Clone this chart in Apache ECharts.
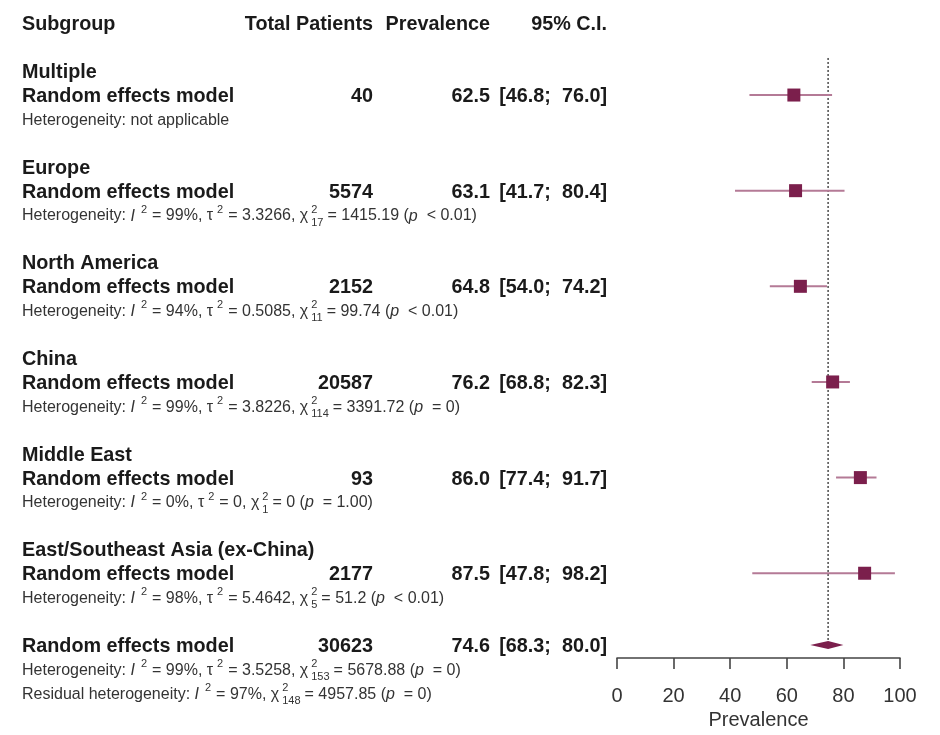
<!DOCTYPE html>
<html><head><meta charset="utf-8">
<script src="https://cdn.jsdelivr.net/npm/echarts@6/dist/echarts.min.js"></script>
<style>html,body{margin:0;padding:0;background:#fff}#c{width:940px;height:735px}</style>
</head><body><div id="c"></div>
<script>
// ---- data ----
const headers = ['Subgroup', 'Total Patients', 'Prevalence', '95% C.I.'];
const groups = ['Multiple', 'Europe', 'North America', 'China', 'Middle East', 'East/Southeast Asia (ex-China)'];
const modelLabel = 'Random effects model';
const totals = [40, 5574, 2152, 20587, 93, 2177];
const prevalence = [62.5, 63.1, 64.8, 76.2, 86.0, 87.5];
const lowerCI = [46.8, 41.7, 54.0, 68.8, 77.4, 47.8];
const upperCI = [76.0, 80.4, 74.2, 82.3, 91.7, 98.2];
const hetI2 = [null, 99, 94, 99, 0, 98];
const hetTau2 = [null, '3.3266', '0.5085', '3.8226', '0', '5.4642'];
const hetDf = [null, 17, 11, 114, 1, 5];
const hetQ = [null, '1415.19', '99.74', '3391.72', '0', '51.2'];
const hetP = [null, '< 0.01', '< 0.01', '= 0', '= 1.00', '< 0.01'];
const overallTotal = 30623;
const overallPrev = 74.6;
const overallLower = 68.3;
const overallUpper = 80.0;
const overallHet = { i2: 99, tau2: '3.5258', df: 153, q: '5678.88', p: '= 0' };
const residualHet = { i2: 97, df: 148, q: '4957.85', p: '= 0' };
const xTicks = [0, 20, 40, 60, 80, 100];
const xAxisName = 'Prevalence';

// ---- layout ----
const FONT = '"Liberation Sans", Arial, Helvetica, sans-serif';
const COL = { name: 22, total: 373, prev: 490, ci: 607 };
const ROW_MIN = -0.5, ROW_MAX = 26.545;
const GRID_TOP = 11.35, GRID_BOTTOM = 77;
const BOLD = 19.8, SMALL = 16;
const TEXT_DY = 1.5;
const INK = '#1a1a1a';
const SQUARE = '#7b1f4c', CILINE = '#b47a96';

function fmt1(v) { return v.toFixed(1); }
function ciText(lo, hi) { return '[' + fmt1(lo) + ';  ' + fmt1(hi) + ']'; }
function hetRich(i2, tau2, df, q, p) {
  return '{n|Heterogeneity: }{it|I}{supI|2}{n|= ' + i2 + '%, τ}{sup|2}{n|= ' + tau2 + ', }{chi|χ}{supz|2}{sub|' + df + '}{n|= ' + q + ' (}{it|p}{n|  ' + p + ')}';
}
function residRich(r) {
  return '{n|Residual heterogeneity: }{it|I}{supI|2}{n|= ' + r.i2 + '%, }{chi|χ}{supz|2}{sub|' + r.df + '}{n|= ' + r.q + ' (}{it|p}{n|  ' + r.p + ')}';
}
const base = { fontSize: SMALL, fontFamily: FONT, color: '#333', lineHeight: 24 };
const small = { fontSize: 11, fontFamily: FONT, color: '#333', lineHeight: 4 };
const rich = {
  n: Object.assign({}, base),
  it: Object.assign({}, base, { fontStyle: 'italic' }),
  chi: Object.assign({}, base, { padding: [0, 3, 0, 0] }),
  sup: Object.assign({}, small, { verticalAlign: 'top', padding: [0, 5, 0, 4] }),
  supI: Object.assign({}, small, { verticalAlign: 'top', padding: [0, 5, 0, 6] }),
  supz: Object.assign({}, small, { verticalAlign: 'top', width: 0.01 }),
  sub: Object.assign({}, small, { verticalAlign: 'bottom', padding: [0, 4, 0, 0] })
};

// ---- build text items: [x, row, text, align, kind] ----
const texts = [];
texts.push([COL.name, 0, headers[0], 'left', 'b']);
texts.push([COL.total, 0, headers[1], 'right', 'b']);
texts.push([COL.prev, 0, headers[2], 'right', 'b']);
texts.push([COL.ci, 0, headers[3], 'right', 'b']);
const modelRows = [];
groups.forEach((g, i) => {
  const r0 = 2 + 4 * i;
  modelRows.push(r0 + 1);
  texts.push([COL.name, r0, g, 'left', 'b']);
  texts.push([COL.name, r0 + 1, modelLabel, 'left', 'b']);
  texts.push([COL.total, r0 + 1, String(totals[i]), 'right', 'b']);
  texts.push([COL.prev, r0 + 1, fmt1(prevalence[i]), 'right', 'b']);
  texts.push([COL.ci, r0 + 1, ciText(lowerCI[i], upperCI[i]), 'right', 'b']);
  const het = hetI2[i] == null ? '{n|Heterogeneity: not applicable}' : hetRich(hetI2[i], hetTau2[i], hetDf[i], hetQ[i], hetP[i]);
  texts.push([COL.name, r0 + 2, het, 'left', 'r']);
});
const overallRow = 26;
texts.push([COL.name, overallRow, modelLabel, 'left', 'b']);
texts.push([COL.total, overallRow, String(overallTotal), 'right', 'b']);
texts.push([COL.prev, overallRow, fmt1(overallPrev), 'right', 'b']);
texts.push([COL.ci, overallRow, ciText(overallLower, overallUpper), 'right', 'b']);
texts.push([COL.name, overallRow + 1, hetRich(overallHet.i2, overallHet.tau2, overallHet.df, overallHet.q, overallHet.p), 'left', 'r']);
texts.push([COL.name, overallRow + 2, residRich(residualHet), 'left', 'r']);

const forestData = prevalence.map((p, i) => [p, lowerCI[i], upperCI[i], modelRows[i]]);
const diamondData = [[overallPrev, overallLower, overallUpper, overallRow]];

const chart = echarts.init(document.getElementById('c'), null, { renderer: 'canvas' });
const yAxisCommon = { type: 'value', min: ROW_MIN, max: ROW_MAX, inverse: true, show: false, splitLine: { show: false } };
chart.setOption({
  animation: false,
  backgroundColor: '#fff',
  grid: [
    { left: 617, right: 40, top: GRID_TOP, bottom: GRID_BOTTOM, containLabel: false, outerBoundsMode: 'none' },
    { left: 0, right: 0, top: GRID_TOP, bottom: GRID_BOTTOM, containLabel: false, outerBoundsMode: 'none' }
  ],
  xAxis: [
    {
      gridIndex: 0, type: 'value', min: 0, max: 100, interval: 20, position: 'bottom',
      axisLine: { show: true, onZero: false, lineStyle: { color: '#444', width: 1.6 } },
      axisTick: { show: true, length: 11, lineStyle: { color: '#444', width: 1.6 } },
      axisLabel: { fontSize: 20, fontFamily: FONT, color: '#333', margin: 28,
        formatter: v => xTicks.includes(v) ? String(v) : '' },
      splitLine: { show: false },
      name: xAxisName, nameLocation: 'middle', nameGap: 51,
      nameTextStyle: { fontSize: 20, fontFamily: FONT, color: '#333' }
    },
    { gridIndex: 1, type: 'value', min: 0, max: 940, show: false, splitLine: { show: false } }
  ],
  yAxis: [
    Object.assign({ gridIndex: 0 }, yAxisCommon),
    Object.assign({ gridIndex: 1 }, yAxisCommon)
  ],
  series: [
    {
      type: 'line', xAxisIndex: 0, yAxisIndex: 0, z: 1,
      data: [[overallPrev, 1.45], [overallPrev, 25.8]],
      showSymbol: false, symbol: 'none',
      lineStyle: { color: '#555', width: 1.6, type: [2, 2] }
    },
    {
      type: 'custom', xAxisIndex: 0, yAxisIndex: 0, z: 3, clip: false,
      data: forestData,
      renderItem(params, api) {
        const row = api.value(3);
        const lo = api.coord([api.value(1), row]);
        const hi = api.coord([api.value(2), row]);
        const c = api.coord([api.value(0), row]);
        const s = 13;
        return { type: 'group', children: [
          { type: 'line', shape: { x1: lo[0], y1: lo[1], x2: hi[0], y2: hi[1] }, style: { stroke: CILINE, lineWidth: 2 } },
          { type: 'rect', shape: { x: c[0] - s / 2, y: c[1] - s / 2, width: s, height: s }, style: { fill: SQUARE } }
        ] };
      }
    },
    {
      type: 'custom', xAxisIndex: 0, yAxisIndex: 0, z: 3, clip: false,
      data: diamondData,
      renderItem(params, api) {
        const row = api.value(3);
        const lo = api.coord([api.value(1), row]);
        const hi = api.coord([api.value(2), row]);
        const c = api.coord([api.value(0), row]);
        const h = 4;
        return { type: 'polygon', shape: { points: [lo, [c[0], c[1] - h], hi, [c[0], c[1] + h]] }, style: { fill: SQUARE } };
      }
    },
    {
      type: 'custom', xAxisIndex: 1, yAxisIndex: 1, z: 4, clip: false,
      data: texts.map(t => [t[0], t[1]]),
      renderItem(params, api) {
        const t = texts[params.dataIndex];
        const p = api.coord([api.value(0), api.value(1)]);
        const isBold = t[4] === 'b';
        const style = {
          text: t[2], fill: isBold ? INK : '#333',
          fontFamily: FONT, fontSize: isBold ? BOLD : SMALL, fontWeight: isBold ? 'bold' : 'normal',
          align: t[3], verticalAlign: 'middle', textAlign: t[3], textVerticalAlign: 'middle'
        };
        if (!isBold) style.rich = rich;
        return { type: 'text', x: p[0], y: p[1] + TEXT_DY, style: style };
      }
    }
  ]
});
</script>
</body></html>
